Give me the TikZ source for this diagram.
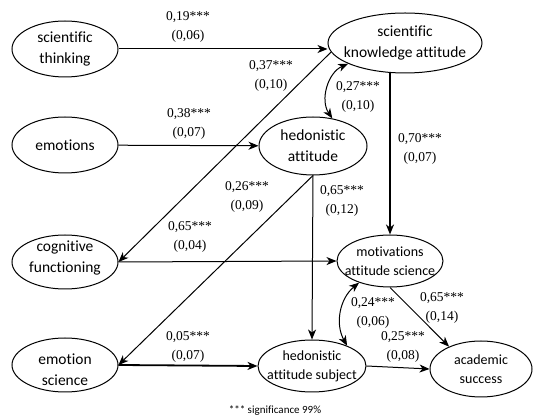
\documentclass[tikz,border=0pt]{standalone}
\usepackage{fontspec}
\setmainfont{Liberation Serif}
\newfontfamily\timesfont{Liberation Serif}
\newfontfamily\carlito[Ligatures=NoCommon]{Carlito}
\usetikzlibrary{arrows.meta,shapes.geometric}
\begin{document}
\begin{tikzpicture}[x=1pt,y=-1pt,
  var/.style={ellipse,draw,line width=1pt,inner sep=0pt},
  vtext/.style={align=center,inner sep=0pt,font=\carlito\fontsize{15.5}{21}\selectfont},
  vtexts/.style={align=center,inner sep=0pt,font=\carlito\fontsize{14}{19}\selectfont},
  conn/.style={line width=1pt,-{Stealth[length=10pt,width=8pt,inset=3pt]}},
  both/.style={line width=1pt,{Stealth[length=10pt,width=8pt,inset=3pt]}-{Stealth[length=10pt,width=8pt,inset=3pt]}},
  heavy/.style={line width=1.8pt},
  coef/.style={align=center,inner sep=0pt,font=\timesfont\fontsize{13.5}{19}\selectfont}]
\useasboundingbox (0,0) rectangle (533,419);
% variables
\node[var,minimum width=106,minimum height=56] (st) at (65,49) {};
\node[vtext] (stt) at (st) {scientif\kern0pt ic\\thinking};
\node[var,minimum width=106,minimum height=56] (em) at (65,145) {};
\node[vtext] (emt) at (em) {emotions};
\node[var,minimum width=106,minimum height=54] (cf) at (65,262) {};
\node[vtext] (cft) at (65,258) {cognitive\\functioning};
\node[var,minimum width=106,minimum height=54] (es) at (65,365) {};
\node[vtext] (est) at (65,370) {emotion\\science};
\node[var,minimum width=154,minimum height=60] (ska) at (405,43) {};
\node[vtext] (skat) at (ska) {scientif\kern0pt ic\\knowledge attitude};
\node[var,minimum width=108,minimum height=58] (hed) at (313,146) {};
\node[vtext] (hedt) at (hed) {hedonistic\\attitude};
\node[var,minimum width=106,minimum height=52] (mot) at (390,261) {};
\node[vtexts] (mott) at (mot) {motivations\\attitude science};
\node[var,minimum width=108,minimum height=52] (has) at (312,366) {};
\node[vtexts] (hast) at (has) {hedonistic\\attitude subject};
\node[var,minimum width=102,minimum height=56] (ac) at (481,369) {};
\node[vtexts] (act) at (ac) {academic\\success};
% connectors
\draw[conn] (st.east) -- (st.east -| ska.west);
\draw[conn] (em) -- (hed);
\draw[conn] (ska.187) -- (cf.east);
\draw[conn] (cf.east) -- (mot.west);
\draw[conn] (hed.south) -- (es.east);
\draw[conn] (hed.south) -- (has.north);
\draw[conn,heavy] (ska.south -| mot.north) -- (mot.north);
\draw[both] (hed.55) to[bend left=50] (ska.200);
\draw[both] (has.30) to[bend left=40] (mot.215);
\draw[conn] (mot.south) -- (ac.145);
\draw[conn] (has.east) -- (ac.west);
\draw[conn,heavy] (es.east) -- (has.west);
% coefficients
\node[coef] (l1) at (188,26.5) {0,19***\\(0,06)};
\node[coef] (l2) at (271,76) {0,37***\\(0,10)};
\node[coef] (l3) at (189,124) {0,38***\\(0,07)};
\node[coef] (l4) at (247,196.5) {0,26***\\(0,09)};
\node[coef] (l5) at (358,96.5) {0,27***\\(0,10)};
\node[coef] (l6) at (420,148.5) {0,70***\\(0,07)};
\node[coef] (l7) at (342,201) {0,65***\\(0,12)};
\node[coef] (l8) at (190,236.5) {0,65***\\(0,04)};
\node[coef] (l9) at (188,347) {0,05***\\(0,07)};
\node[coef] (l10) at (373,313) {0,24***\\(0,06)};
\node[coef] (l11) at (442,307.5) {0,65***\\(0,14)};
\node[coef] (l12) at (403,347) {0,25***\\(0,08)};
\node[inner sep=0pt,font=\carlito\fontsize{11}{13}\selectfont] (note) at (275,411) {*** significance 99\%};
\end{tikzpicture}
\end{document}
